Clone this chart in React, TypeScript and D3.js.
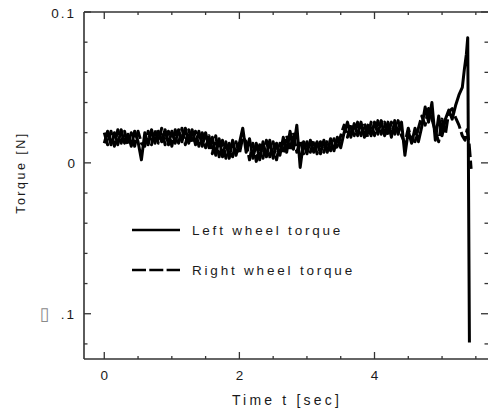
import React from 'react';
import * as d3 from 'd3';

const W = 488;
const H = 410;

// sampling of the recorded traces
const SAMPLE_STEP = 0.05;

// Left wheel torque [N], samples every 0.05 s from t = 0
const leftTorque = [
  0.013, 0.021, 0.012, 0.020, 0.012, 0.022, 0.013, 0.019, 0.011, 0.021,
  0.014, 0.002, 0.020, 0.012, 0.022, 0.013, 0.021, 0.014, 0.022, 0.012,
  0.021, 0.013, 0.022, 0.014, 0.023, 0.013, 0.022, 0.012, 0.021, 0.011,
  0.020, 0.010, 0.017, 0.005, 0.016, 0.004, 0.014, 0.003, 0.015, 0.005,
  0.013, 0.023, 0.007, 0.016, 0.003, 0.013, 0.002, 0.014, 0.004, 0.015,
  0.003, 0.013, 0.005, 0.017, 0.007, 0.021, 0.009, 0.025, -0.003, 0.014,
  0.006, 0.015, 0.007, 0.014, 0.006, 0.015, 0.007, 0.016, 0.008, 0.017,
  0.010, 0.020, 0.027, 0.017, 0.026, 0.018, 0.027, 0.017, 0.025, 0.018,
  0.027, 0.019, 0.028, 0.018, 0.027, 0.017, 0.028, 0.019, 0.027, 0.005,
  0.021, 0.013, 0.023, 0.014, 0.024, 0.037, 0.027, 0.040, 0.015, 0.031,
  0.018, 0.029, 0.035, 0.029, 0.038, 0.045,
];
const leftTailTime = [5.30, 5.33, 5.36, 5.38, 5.405];
const leftTailTorque = [0.050, 0.062, 0.072, 0.083, -0.119];

// Right wheel torque [N], samples every 0.05 s from t = 0
const rightTorque = [
  0.020, 0.012, 0.021, 0.011, 0.022, 0.013, 0.021, 0.012, 0.020, 0.011,
  0.021, 0.013, 0.011, 0.021, 0.012, 0.022, 0.013, 0.023, 0.012, 0.021,
  0.011, 0.022, 0.013, 0.023, 0.012, 0.022, 0.013, 0.021, 0.011, 0.020,
  0.010, 0.018, 0.006, 0.018, 0.004, 0.015, 0.003, 0.013, 0.004, 0.014,
  0.006, 0.017, 0.014, 0.002, 0.013, 0.001, 0.012, 0.003, 0.015, 0.004,
  0.014, 0.002, 0.013, 0.006, 0.018, 0.008, 0.020, 0.007, 0.015, 0.006,
  0.014, 0.007, 0.015, 0.006, 0.014, 0.007, 0.015, 0.008, 0.016, 0.009,
  0.018, 0.025, 0.017, 0.026, 0.018, 0.027, 0.018, 0.026, 0.017, 0.027,
  0.018, 0.028, 0.019, 0.027, 0.018, 0.027, 0.019, 0.028, 0.018, 0.013,
  0.023, 0.015, 0.014, 0.023, 0.031, 0.025, 0.036, 0.029, 0.021, 0.014,
  0.029, 0.019, 0.034, 0.036, 0.030, 0.025,
];
const rightTailTime = [5.30, 5.34, 5.37, 5.40, 5.42, 5.43];
const rightTailTorque = [0.018, 0.015, 0.022, 0.013, 0.002, -0.004];

const xTickValues = [0, 2, 4];
const xMinorTicks = [0, 0.5, 1, 1.5, 2, 2.5, 3, 3.5, 4, 4.5, 5, 5.5];
const yTickValues = [0.1, 0, -0.1];
const yMinorTicks = [-0.12, -0.1, -0.08, -0.06, -0.04, -0.02, 0, 0.02, 0.04, 0.06, 0.08, 0.1];
const legendLabels = ['Left wheel torque', 'Right wheel torque'];
const xTitle = 'Time t [sec]';
const yTitle = 'Torque [N]';

const FONT = '"Liberation Sans", Arial, sans-serif';
const AXIS = '#333';
const TEXT = '#1a1a1a';

type Pt = [number, number];

function buildSeries(vals: number[], tailT: number[], tailV: number[]): Pt[] {
  const pts: Pt[] = vals.map((v, i) => [i * SAMPLE_STEP, v]);
  tailT.forEach((t, i) => pts.push([t, tailV[i]]));
  return pts;
}

export default function App() {
  const x = d3.scaleLinear().domain([-0.3, 5.68]).range([84, 488]);
  const y = d3.scaleLinear().domain([-0.13, 0.1]).range([359, 12]);
  const line = d3
    .line<Pt>()
    .x((d) => x(d[0]))
    .y((d) => y(d[1]));

  const left = buildSeries(leftTorque, leftTailTime, leftTailTorque);
  const right = buildSeries(rightTorque, rightTailTime, rightTailTorque);

  const [x0, x1] = x.range();
  const [yb, yt] = y.range();

  return (
    <svg
      width={W}
      height={H}
      style={{ position: 'absolute', left: 0, top: 0, display: 'block', background: '#fff' }}
    >
      <rect x={0} y={0} width={W} height={H} fill="#fff" />
      {/* traces */}
      <path d={line(right) || ''} fill="none" stroke="#000" strokeWidth={3} strokeDasharray="13.5,3.5" strokeLinejoin="round" />
      <path d={line(left) || ''} fill="none" stroke="#000" strokeWidth={3} strokeLinejoin="round" />

      {/* frame */}
      <line x1={x0} x2={x0} y1={yt} y2={yb} stroke={AXIS} strokeWidth={1.6} />
      <line x1={x0} x2={x1} y1={yb} y2={yb} stroke={AXIS} strokeWidth={1.6} />
      <line x1={x0} x2={x1} y1={yt} y2={yt} stroke={AXIS} strokeWidth={1.6} />

      {/* x ticks bottom & top */}
      {xMinorTicks.map((t) => {
        const major = xTickValues.includes(t);
        const len = major ? 7 : 3;
        return (
          <g key={'xt' + t}>
            <line x1={x(t)} x2={x(t)} y1={yb} y2={yb - len} stroke={AXIS} strokeWidth={1.3} />
            <line x1={x(t)} x2={x(t)} y1={yt} y2={yt + len} stroke={AXIS} strokeWidth={1.3} />
          </g>
        );
      })}
      {/* y ticks left & right */}
      {yMinorTicks.map((v) => {
        const major = yTickValues.some((m) => Math.abs(m - v) < 1e-9);
        const len = major ? 7 : 3.5;
        return (
          <g key={'yt' + v}>
            <line x1={x0} x2={x0 + len} y1={y(v)} y2={y(v)} stroke={AXIS} strokeWidth={1.3} />
            <line x1={x1} x2={x1 - len} y1={y(v)} y2={y(v)} stroke={AXIS} strokeWidth={1.3} />
          </g>
        );
      })}

      {/* x tick labels */}
      {xTickValues.map((t) => (
        <text key={'xl' + t} x={x(t)} y={380} textAnchor="middle" fontFamily={FONT} fontSize={13.5} fill={TEXT}>
          {String(t)}
        </text>
      ))}

      {/* y tick labels */}
      <text x={76} y={18} textAnchor="end" fontFamily={FONT} fontSize={13.5} letterSpacing={2} fill={TEXT}>
        0.1
      </text>
      <text x={75} y={y(0) + 5} textAnchor="end" fontFamily={FONT} fontSize={13.5} fill={TEXT}>
        0
      </text>
      <text x={44.5} y={y(-0.1) + 6.5} textAnchor="middle" fontFamily='"DejaVu Sans", sans-serif' fontSize={18} fill="#8a8a8a">
        {'\u25AF'}
      </text>
      <text x={76} y={y(-0.1) + 5} textAnchor="end" fontFamily={FONT} fontSize={13.5} letterSpacing={2} fill={TEXT}>
        .1
      </text>

      {/* axis titles */}
      <text x={287} y={405} textAnchor="middle" fontFamily={FONT} fontSize={14} letterSpacing={3.2} fill={TEXT}>
        {xTitle}
      </text>
      <text
        transform={`translate(25,172.5) rotate(-90)`}
        textAnchor="middle"
        fontFamily={FONT}
        fontSize={12.5}
        letterSpacing={2.5}
        fill={TEXT}
      >
        {yTitle}
      </text>

      {/* legend */}
      <line x1={132} x2={180} y1={230} y2={230} stroke="#000" strokeWidth={2.4} />
      <text x={192} y={235} fontFamily={FONT} fontSize={13.5} letterSpacing={2.8} fill={TEXT}>
        {legendLabels[0]}
      </text>
      <line x1={132} x2={180} y1={270} y2={270} stroke="#000" strokeWidth={2.4} strokeDasharray="14,3.3" />
      <text x={192} y={275} fontFamily={FONT} fontSize={13.5} letterSpacing={2.8} fill={TEXT}>
        {legendLabels[1]}
      </text>
    </svg>
  );
}
